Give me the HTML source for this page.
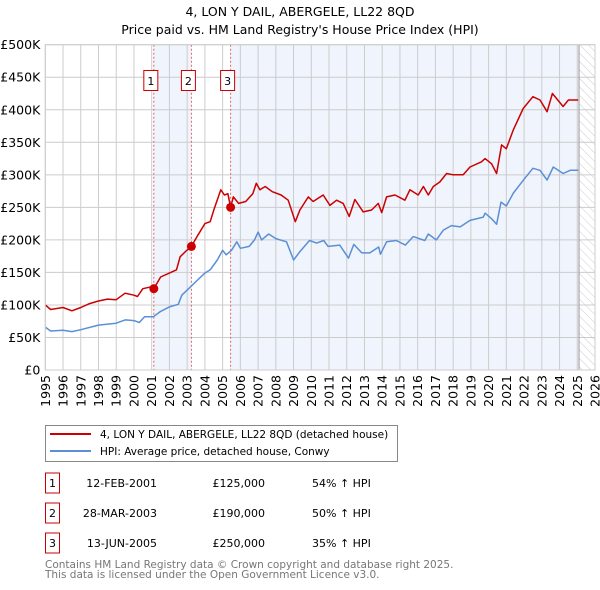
<!DOCTYPE html>
<html><head><meta charset="utf-8"><style>
html,body{margin:0;padding:0;background:#fff;}
svg{display:block;font-family:"DejaVu Sans","Liberation Sans",sans-serif;}
</style></head><body>
<svg id="chart" width="600" height="590" viewBox="0 0 600 590" xmlns="http://www.w3.org/2000/svg">
<defs>
<pattern id="hatch" patternUnits="userSpaceOnUse" width="6" height="6" patternTransform="rotate(-45)">
<line x1="0" y1="0" x2="0" y2="6" stroke="#ccc" stroke-width="1"/>
</pattern>
</defs>
<text x="300" y="16" text-anchor="middle" font-size="12.5" fill="#000">4, LON Y DAIL, ABERGELE, LL22 8QD</text>
<text x="300" y="34" text-anchor="middle" font-size="12.5" fill="#000">Price paid vs. HM Land Registry's House Price Index (HPI)</text>
<g id="plot"></g>
<g>
<rect x="45.5" y="425.5" width="352" height="36" fill="#fff" stroke="#888"/>
<line x1="50" y1="434" x2="91" y2="434" stroke="#cc0000" stroke-width="2"/>
<text x="100" y="438" font-size="10.5">4, LON Y DAIL, ABERGELE, LL22 8QD (detached house)</text>
<line x1="50" y1="451" x2="91" y2="451" stroke="#5b8fd6" stroke-width="2"/>
<text x="100" y="455" font-size="10.5">HPI: Average price, detached house, Conwy</text>
</g>
<g id="table" font-size="11"></g>
<text x="45" y="568" font-size="10.5" fill="#777">Contains HM Land Registry data © Crown copyright and database right 2025.</text>
<text x="45" y="578" font-size="10.5" fill="#777">This data is licensed under the Open Government Licence v3.0.</text>
</svg>
<script>
const hpiYears=[1995,1995.3,1996,1996.5,1997,1998,1999,1999.5,2000,2000.3,2000.6,2001.1,2001.5,2002,2002.5,2002.7,2003.2,2003.5,2004,2004.3,2004.7,2005,2005.2,2005.5,2005.8,2006,2006.5,2006.8,2007,2007.2,2007.6,2008,2008.6,2009,2009.36,2009.9,2010.3,2010.7,2010.95,2011.6,2012.1,2012.4,2012.85,2013.3,2013.8,2013.9,2014.25,2014.8,2015.3,2015.75,2016.4,2016.6,2017.05,2017.45,2017.9,2018.4,2018.95,2019.7,2019.8,2020.15,2020.45,2020.7,2021.0,2021.4,2022.05,2022.5,2022.9,2023.3,2023.65,2024.2,2024.6,2025.05];
const hpiValues=[66,60,61,59,62,69,72,77,76,73,82,82,90,97,101,115,128,136,149,154,169,184,177,184,197,187,190,200,212,200,209,202,197,169,182,199,195,199,190,192,172,193,180,180,189,178,197,199,192,205,199,209,200,215,222,220,230,235,241,233,224,258,252,272,295,310,307,292,312,302,307,307];
const ppYears=[1995,1995.3,1996,1996.5,1997,1997.5,1998,1998.5,1999,1999.5,2000,2000.2,2000.5,2001,2001.12,2001.5,2002,2002.4,2002.6,2002.9,2003.24,2003.6,2004,2004.3,2004.5,2004.9,2005.1,2005.3,2005.45,2005.6,2005.9,2006.3,2006.7,2006.9,2007.1,2007.4,2007.8,2008.3,2008.7,2009.1,2009.36,2009.83,2010.1,2010.67,2011.05,2011.43,2011.8,2012.14,2012.46,2012.93,2013.4,2013.78,2013.97,2014.25,2014.72,2015.28,2015.56,2016.03,2016.32,2016.6,2016.88,2017.25,2017.63,2018.0,2018.57,2018.95,2019.6,2019.8,2020.17,2020.45,2020.73,2021.0,2021.39,2021.95,2022.5,2022.9,2023.3,2023.6,2024.2,2024.5,2025.05];
const ppValues=[100,93,96,91,96,102,106,109,108,118,115,113,125,128,125,143,149,154,174,182,190,207,225,228,246,277,269,271,250,266,256,259,271,287,277,282,274,269,261,228,246,266,259,269,253,261,256,236,262,243,246,256,242,266,269,261,277,269,282,269,282,289,302,300,300,312,320,325,317,302,346,340,369,402,420,415,397,425,405,415,415];
const yTicks=[0,50,100,150,200,250,300,350,400,450,500];
const yTickLabels=["£0","£50K","£100K","£150K","£200K","£250K","£300K","£350K","£400K","£450K","£500K"];
const xTicks=[1995,1996,1997,1998,1999,2000,2001,2002,2003,2004,2005,2006,2007,2008,2009,2010,2011,2012,2013,2014,2015,2016,2017,2018,2019,2020,2021,2022,2023,2024,2025,2026];
const saleIds=["1","2","3"];
const saleYears=[2001.12,2003.24,2005.45];
const saleValues=[125,190,250];
const saleDates=["12-FEB-2001","28-MAR-2003","13-JUN-2005"];
const salePrices=["£125,000","£190,000","£250,000"];
const saleHpi=["54% ↑ HPI","50% ↑ HPI","35% ↑ HPI"];
const dataEndYear=2025.1;

const X0=45.3,X1=595,Y0=370,Y1=44.7;
const xs=y=>X0+(y-1995)/(2026-1995)*(X1-X0);
const ys=v=>Y0-v/500*(Y0-Y1);
const NS="http://www.w3.org/2000/svg";
const plot=document.getElementById('plot');
function mk(tag,attrs,parent){const e=document.createElementNS(NS,tag);for(const k in attrs)e.setAttribute(k,attrs[k]);(parent||plot).appendChild(e);return e;}

let r=mk('rect',{x:X0,y:Y1,width:X1-X0,height:Y0-Y1,fill:'#fff'});


r=mk('rect',{x:xs(saleYears[0]),y:Y1,width:xs(saleYears[1])-xs(saleYears[0]),height:Y0-Y1,fill:'#f0f4fd'});


r=mk('rect',{x:xs(saleYears[2]),y:Y1,width:xs(dataEndYear)-xs(saleYears[2]),height:Y0-Y1,fill:'#f0f4fd'});


r=mk('rect',{x:xs(dataEndYear),y:Y1,width:X1-xs(dataEndYear),height:Y0-Y1,fill:'url(#hatch)'});



yTicks.forEach((v,i)=>{
  const l=mk('line',{x1:X0,x2:X1,y1:ys(v),y2:ys(v),stroke:'#ccc','stroke-width':1});
  
  
  const t=mk('text',{x:X0-5,y:ys(v)+4.5,'text-anchor':'end','font-size':12.5,fill:'#000'});
  
  
  t.textContent=yTickLabels[i];
});
xTicks.forEach(yr=>{
  const l=mk('line',{x1:xs(yr),x2:xs(yr),y1:Y1,y2:Y0,stroke:'#ccc','stroke-width':1});
  
  
  const t=mk('text',{x:0,y:0,'text-anchor':'end','font-size':12.5,fill:'#000',transform:`translate(${xs(yr)+4.5},${Y0+5}) rotate(-90)`});
  
  
  t.textContent=String(yr);
});
let gl=mk('line',{x1:xs(dataEndYear),x2:xs(dataEndYear),y1:Y1,y2:Y0,stroke:'#999','stroke-width':1});



saleYears.forEach((yr,i)=>{
  const l=mk('line',{x1:xs(yr),x2:xs(yr),y1:Y1,y2:Y0,stroke:'#e06666','stroke-width':1,'stroke-dasharray':'2,2'});
  
  
});

function path(xsArr,vs){return xsArr.map((x,i)=>(i?'L':'M')+xs(x).toFixed(1)+','+ys(vs[i]).toFixed(1)).join('');}
let p=mk('path',{d:path(hpiYears,hpiValues),fill:'none',stroke:'#5b8fd6','stroke-width':1.5,'stroke-linejoin':'round'});


p=mk('path',{d:path(ppYears,ppValues),fill:'none',stroke:'#cc0000','stroke-width':1.5,'stroke-linejoin':'round'});



saleYears.forEach((yr,i)=>{
  const c=mk('circle',{cx:xs(yr),cy:ys(saleValues[i]),r:4.5,fill:'#cc0000'});
  
  
  const b=mk('rect',{x:xs(yr)-10,y:70.5,width:14,height:20,fill:'#fff',stroke:'#cc0000'});
  
  
  const t=mk('text',{x:xs(yr)-3,y:85,'text-anchor':'middle','font-size':11});
  
  
  t.textContent=saleIds[i];
});
let ax=mk('rect',{x:X0,y:Y1,width:X1-X0,height:Y0-Y1,fill:'none',stroke:'#ccc'});



const tb=document.getElementById('table');
saleIds.forEach((id,i)=>{
  const cy=483+i*30;
  const b=mk('rect',{x:45.5,y:cy-10,width:14,height:20,fill:'#fff',stroke:'#cc0000'},tb);
  
  
  let t=mk('text',{x:52.5,y:cy+4,'text-anchor':'middle'},tb);
  
  
  t.textContent=id;
  t=mk('text',{x:157,y:cy+4,'text-anchor':'end'},tb);
  
  
  t.textContent=saleDates[i];
  t=mk('text',{x:265,y:cy+4,'text-anchor':'end'},tb);
  
  
  t.textContent=salePrices[i];
  t=mk('text',{x:312,y:cy+4},tb);
  
  
  t.textContent=saleHpi[i];
});
</script>
</body></html>
